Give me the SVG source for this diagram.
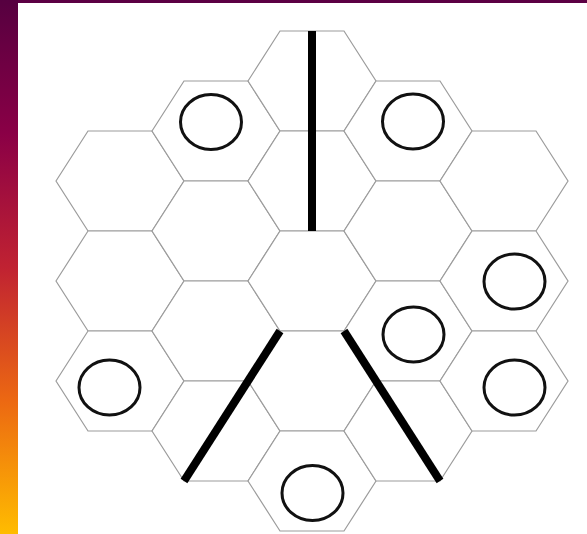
<svg xmlns="http://www.w3.org/2000/svg" width="587" height="534" viewBox="0 0 587 534">
  <defs>
    <linearGradient id="side" x1="0" y1="0" x2="0" y2="1">
      <stop offset="0" stop-color="#560040"/>
      <stop offset="0.25" stop-color="#8a0046"/>
      <stop offset="0.5" stop-color="#c02232"/>
      <stop offset="0.75" stop-color="#ec6812"/>
      <stop offset="1" stop-color="#ffbc00"/>
    </linearGradient>
    <polygon id="hx" points="-64,0 -32,-50 32,-50 64,0 32,50 -32,50"/>
  </defs>
  <style>
    .hex { fill: #ffffff; stroke: #9c9c9c; stroke-width: 1.2; }
    .tok { fill: none; stroke: #111111; stroke-width: 3; }
    .wall { stroke: #000000; stroke-width: 8; stroke-linecap: butt; fill: none; }
  </style>
  <rect x="0" y="0" width="587" height="534" fill="#ffffff"/>
  <rect x="0" y="0" width="587" height="3" fill="#5c0044"/>
  <rect x="0" y="0" width="18" height="534" fill="url(#side)"/>

  <g id="hexes">
    <g id="h-0-181"><use href="#hx" class="hex" x="120" y="181"/></g>
    <g id="h-0-281"><use href="#hx" class="hex" x="120" y="281"/></g>
    <g id="h-0-381"><use href="#hx" class="hex" x="120" y="381"/><ellipse class="tok" cx="109.5" cy="387.5" rx="30.5" ry="27.5"/></g>

    <g id="h-1-131"><use href="#hx" class="hex" x="216" y="131"/><ellipse class="tok" cx="211" cy="122" rx="30.5" ry="27.5"/></g>
    <g id="h-1-231"><use href="#hx" class="hex" x="216" y="231"/></g>
    <g id="h-1-331"><use href="#hx" class="hex" x="216" y="331"/></g>
    <g id="h-1-431"><use href="#hx" class="hex" x="216" y="431"/></g>

    <g id="h-2-81"><use href="#hx" class="hex" x="312" y="81"/></g>
    <g id="h-2-181"><use href="#hx" class="hex" x="312" y="181"/></g>
    <g id="h-2-281"><use href="#hx" class="hex" x="312" y="281"/></g>
    <g id="h-2-381"><use href="#hx" class="hex" x="312" y="381"/></g>
    <g id="h-2-481"><use href="#hx" class="hex" x="312" y="481"/><ellipse class="tok" cx="312.5" cy="493" rx="30.5" ry="27.5"/></g>

    <g id="h-3-131"><use href="#hx" class="hex" x="408" y="131"/><ellipse class="tok" cx="413" cy="121.5" rx="30.5" ry="27.5"/></g>
    <g id="h-3-231"><use href="#hx" class="hex" x="408" y="231"/></g>
    <g id="h-3-331"><use href="#hx" class="hex" x="408" y="331"/><ellipse class="tok" cx="413.5" cy="334.5" rx="30.5" ry="27.5"/></g>
    <g id="h-3-431"><use href="#hx" class="hex" x="408" y="431"/></g>

    <g id="h-4-181"><use href="#hx" class="hex" x="504" y="181"/></g>
    <g id="h-4-281"><use href="#hx" class="hex" x="504" y="281"/><ellipse class="tok" cx="514.5" cy="281.5" rx="30.5" ry="27.5"/></g>
    <g id="h-4-381"><use href="#hx" class="hex" x="504" y="381"/><ellipse class="tok" cx="514.5" cy="387.5" rx="30.5" ry="27.5"/></g>
  </g>

  <g id="connectors">
    <line class="wall" x1="312" y1="31" x2="312" y2="231"/>
    <line class="wall" x1="280" y1="331" x2="184" y2="481"/>
    <line class="wall" x1="344" y1="331" x2="440" y2="481"/>
  </g>
</svg>
